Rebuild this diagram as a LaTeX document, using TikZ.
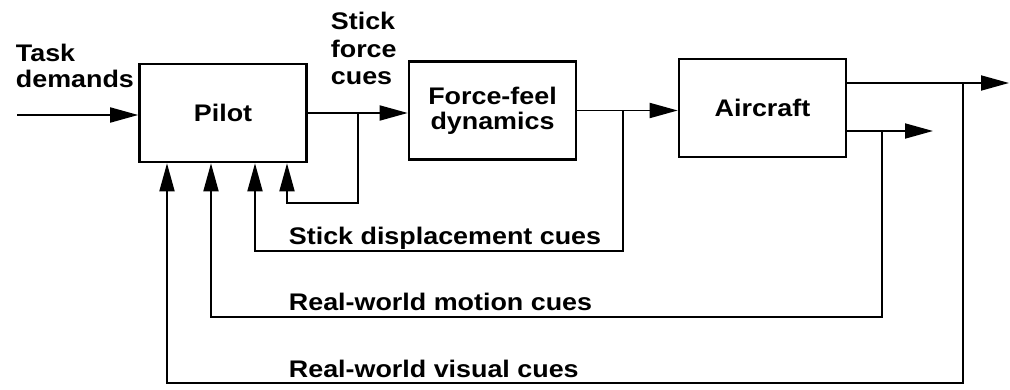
\documentclass[tikz,border=0pt]{standalone}
\usepackage{fontspec}
\newfontfamily\lab{Liberation Sans}[FakeStretch=1.12]
\usetikzlibrary{arrows.meta,calc}
\begin{document}
\begin{tikzpicture}[x=1pt,y=-1pt,line width=1.8pt,
  font=\lab\bfseries\fontsize{24}{27}\selectfont,
  blk/.style={draw,line width=2.6pt,inner sep=0pt,align=center,minimum width=167pt,minimum height=98pt},
  arr/.style={-{Triangle[length=28pt,width=15pt]}},
  lbl/.style={anchor=base west,inner sep=0pt,align=left}]
\useasboundingbox (0,0) rectangle (1010,390);
% blocks
\node[blk] (pilot) at (223,113) {Pilot};
\node[blk] (ff) at (492.5,110.5) {Force-feel\\[-2pt]dynamics};
\node[blk] (ac) at (762.5,108) {Aircraft};
% helper coordinates
\coordinate (tdin) at (17,115);
\coordinate (j1) at (358,113);
\coordinate (j2) at (623,110.5);
\coordinate (j3) at (963,83);
\coordinate (j4) at (882,131);
\coordinate (o1) at (1009,83);
\coordinate (o2) at (933,131);
\coordinate (l1) at (0,203);
\coordinate (l2) at (0,251);
\coordinate (l3) at (0,317);
\coordinate (l4) at (0,383);
\coordinate (p1) at ([xshift=-56pt]pilot.south);
\coordinate (p2) at ([xshift=-12pt]pilot.south);
\coordinate (p3) at ([xshift=32pt]pilot.south);
\coordinate (p4) at ([xshift=64pt]pilot.south);
% connectors
\draw[arr] (tdin) -- (tdin -| pilot.west);
\draw[arr] (pilot.east) -- (pilot.east -| ff.west);
\draw[arr] (j1) -- (j1 |- l1) -| (p4);
\draw[arr] (ff.east) -- (ff.east -| ac.west);
\draw[arr] (j2) -- (j2 |- l2) -| (p3);
\draw[arr] (ac.east |- o1) -- (o1);
\draw[arr] (ac.east |- o2) -- (o2);
\draw[arr] (j4) -- (j4 |- l3) -| (p2);
\draw[arr] (j3) -- (j3 |- l4) -| (p1);
% labels
\node[lbl] (td) at (15,88) {Task\\[-1pt]demands};
\node[lbl] (sf) at (330,85) {Stick\\[0.5pt]force\\[0.5pt]cues};
\node[lbl] (sd) at (288,245) {Stick displacement cues};
\node[lbl] (mc) at (288,311) {Real-world motion cues};
\node[lbl] (vc) at (288,377) {Real-world visual cues};
\end{tikzpicture}
\end{document}
